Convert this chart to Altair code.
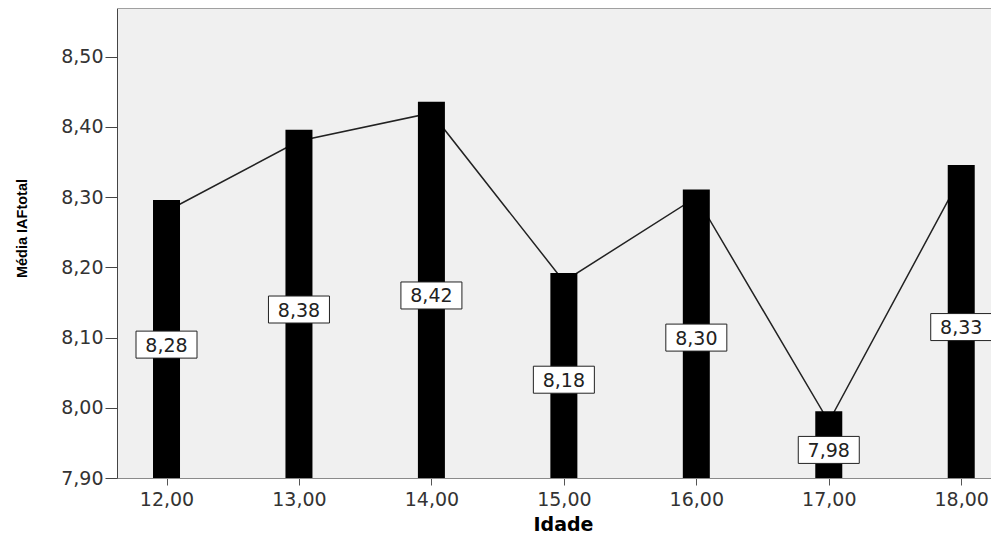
import altair as alt
import pandas as pd

ages = [12, 13, 14, 15, 16, 17, 18]
means = [8.28, 8.38, 8.42, 8.18, 8.30, 7.98, 8.33]
bar_tops = [8.296, 8.396, 8.436, 8.192, 8.311, 7.995, 8.346]
y_ticks = [7.9, 8.0, 8.1, 8.2, 8.3, 8.4, 8.5]
y_min, y_max = 7.90, 8.5695
x_min, x_max = 11.664, 18.187

df = pd.DataFrame({"age": ages, "mean": means, "top": bar_tops})

W, H = 874, 470
num_font = "DejaVu Sans"
fmt = "replace(format(datum.value, '.2f'), '.', ',')"

xs = alt.Scale(domain=[x_min, x_max], nice=False, zero=False)
ys = alt.Scale(domain=[y_min, y_max], nice=False, zero=False)

base = alt.Chart(df)

x_enc = alt.X("age:Q", scale=xs, axis=alt.Axis(
    values=ages, labelExpr=fmt, title="Idade", grid=False,
    domainColor="#8a8a8a", tickColor="#555", tickSize=7, labelPadding=5,
    labelFont=num_font, labelFontSize=19, labelColor="#333",
    titleFont="DejaVu Sans", titleFontWeight="bold", titleFontSize=19,
    titleColor="#000", titleX=446, titleY=46, titleBaseline="middle", titleAlign="center"))

y_enc = alt.Y("mean:Q", scale=ys, axis=alt.Axis(
    values=y_ticks, labelExpr=fmt, title="Média IAFtotal", grid=False,
    domainColor="#444", tickColor="#444", tickSize=12, labelPadding=2,
    labelFont=num_font, labelFontSize=19, labelColor="#333",
    titleFont="Liberation Sans", titleFontWeight="bold", titleFontSize=14.5,
    titleColor="#000", titleX=-95, titleY=220, titleBaseline="middle", titleAlign="center",
    titleAngle=270))

line = base.mark_line(color="#222", strokeWidth=1.5).encode(x=x_enc, y=y_enc)

bars = base.mark_bar(width=27, color="#000").encode(
    x=alt.X("age:Q", scale=xs),
    y=alt.Y("top:Q", scale=ys),
    y2=alt.datum(y_min),
)

lab = base.transform_calculate(
    mid="(datum.mean + 7.9) / 2",
    label="replace(format(datum.mean, '.2f'), '.', ',')",
)

boxes = lab.mark_point(
    shape="M-1,-0.4426L1,-0.4426L1,0.4426L-1,0.4426Z", size=3721,
    filled=True, fill="white", stroke="#222", strokeWidth=1, opacity=1,
).encode(x=alt.X("age:Q", scale=xs), y=alt.Y("mid:Q", scale=ys))

texts = lab.mark_text(font=num_font, fontSize=19, color="#222",
                      align="center", baseline="middle", dy=1).encode(
    x=alt.X("age:Q", scale=xs), y=alt.Y("mid:Q", scale=ys), text="label:N")

top_border = alt.Chart(df).mark_rule(color="#a0a0a0", strokeWidth=2).encode(
    x=alt.value(0), x2=alt.value(W), y=alt.value(0))

chart = alt.layer(line, bars, boxes, texts, top_border).properties(
    width=W, height=H,
    padding={"left": 109, "top": 0, "right": 0, "bottom": 56},
    autosize=alt.AutoSizeParams(type="none"),
    background="white",
).configure_view(fill="#f0f0f0", stroke=None)

chart.save("out.html", embed_options={"renderer": "svg", "actions": False})
